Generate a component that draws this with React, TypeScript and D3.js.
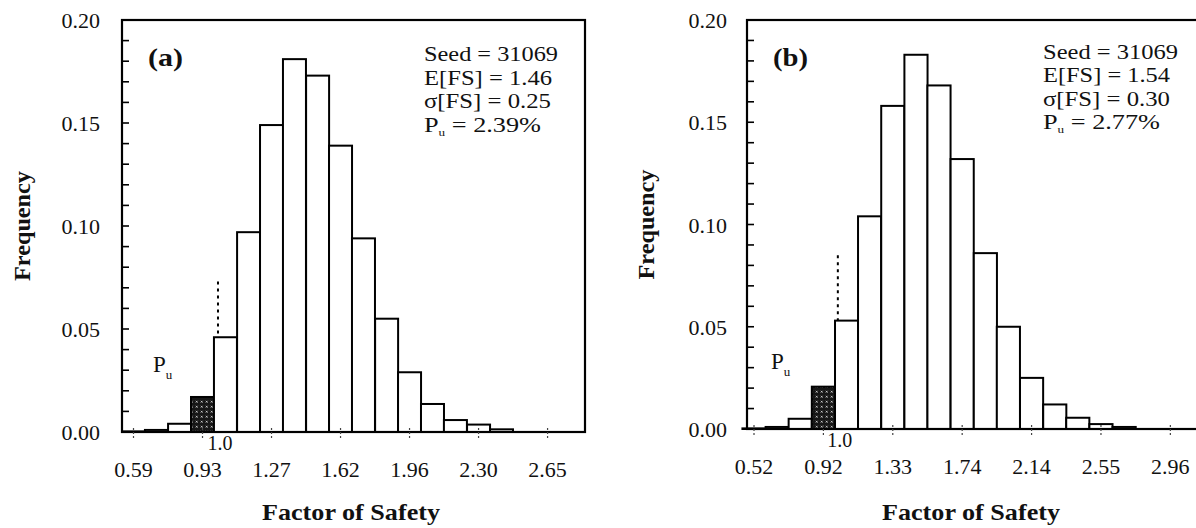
import React from "react";
import * as d3 from "d3";

// ---------- data ----------
const Y_TICKS = [0, 0.05, 0.1, 0.15, 0.2];
const Y_TICK_LABELS = ["0.00", "0.05", "0.10", "0.15", "0.20"];
const Y_MINOR = [0.01, 0.02, 0.03, 0.04, 0.06, 0.07, 0.08, 0.09, 0.11, 0.12, 0.13, 0.14, 0.16, 0.17, 0.18, 0.19];

const TICKS_A = [0.59, 0.933, 1.276, 1.619, 1.962, 2.305, 2.648];
const TICK_LABELS_A = ["0.59", "0.93", "1.27", "1.62", "1.96", "2.30", "2.65"];
const BIN_WIDTH_A = 0.1143;
const BIN_CENTERS_A = [0.59, 0.704, 0.819, 0.933, 1.047, 1.162, 1.276, 1.39, 1.505, 1.619, 1.733, 1.848, 1.962, 2.076, 2.19, 2.305, 2.419];
const FREQ_A = [0.0003, 0.001, 0.004, 0.017, 0.046, 0.097, 0.149, 0.181, 0.173, 0.139, 0.094, 0.055, 0.029, 0.0136, 0.0058, 0.0036, 0.0013];
const STATS_A = ["Seed = 31069", "E[FS] = 1.46", "σ[FS] = 0.25", "= 2.39%"];

const TICKS_B = [0.52, 0.927, 1.334, 1.741, 2.148, 2.555, 2.962];
const TICK_LABELS_B = ["0.52", "0.92", "1.33", "1.74", "2.14", "2.55", "2.96"];
const BIN_WIDTH_B = 0.1357;
const BIN_CENTERS_B = [0.52, 0.656, 0.791, 0.927, 1.063, 1.198, 1.334, 1.47, 1.605, 1.741, 1.877, 2.012, 2.148, 2.284, 2.419, 2.555, 2.691];
const FREQ_B = [0.0003, 0.001, 0.005, 0.0207, 0.053, 0.104, 0.158, 0.183, 0.168, 0.132, 0.086, 0.05, 0.025, 0.012, 0.0055, 0.0024, 0.001];
const STATS_B = ["Seed = 31069", "E[FS] = 1.54", "σ[FS] = 0.30", "= 2.77%"];

const FS_LIMIT = 1.0;
const DOT_TOP_A = 0.073;
const DOT_TOP_B = 0.085;

const SERIF = "'Liberation Serif', 'Times New Roman', serif";

type PanelProps = {
  id: string;
  left: number; right: number; top: number; bottom: number;
  xDomain: [number, number];
  ticks: number[]; tickLabels: string[];
  centers: number[]; freq: number[]; binWidth: number;
  stats: string[]; statX: number; statY: number[]; statW: number[];
  dotTop: number;
  letter: string; letterX: number;
  yLabelX: number; yTickLabelX: number;
  puX: number;
  titleX: number;
};

function Panel(p: PanelProps) {
  const x = d3.scaleLinear().domain(p.xDomain).range([p.left, p.right]);
  const y = d3.scaleLinear().domain([0, 0.2]).range([p.bottom, p.top]);
  const xl = x(FS_LIMIT);
  return (
    <g>
      {/* bars */}
      {p.freq.map((f, i) => {
        const c = p.centers[i];
        const x0 = x(c - p.binWidth / 2);
        const x1 = x(c + p.binWidth / 2);
        const hatched = c + p.binWidth / 2 <= FS_LIMIT + 0.01 && f > 0.01;
        return (
          <rect key={i} x={x0} y={y(f)} width={x1 - x0} height={p.bottom - y(f)}
            fill={hatched ? "url(#hatch)" : "#fff"} stroke="#000" strokeWidth={2} />
        );
      })}
      {/* frame */}
      <rect x={p.left} y={p.top} width={p.right - p.left} height={p.bottom - p.top}
        fill="none" stroke="#000" strokeWidth={2.2} />
      {/* y ticks */}
      {Y_MINOR.map((t) => (
        <line key={"m" + t} x1={p.left} x2={p.left + 7} y1={y(t)} y2={y(t)} stroke="#000" strokeWidth={1.6} />
      ))}
      {Y_TICKS.map((t, i) => (
        <g key={"y" + t}>
          <line x1={p.left} x2={p.left + 7} y1={y(t)} y2={y(t)} stroke="#000" strokeWidth={1.6} />
          <text x={p.yTickLabelX} y={y(t) + 8} textAnchor="end" fontFamily={SERIF} fontSize={22} fill="#111">
            {Y_TICK_LABELS[i]}
          </text>
        </g>
      ))}
      {/* x ticks */}
      {p.ticks.map((t, i) => (
        <g key={"x" + t}>
          <line x1={x(t)} x2={x(t)} y1={p.bottom - 4} y2={p.bottom + 7} stroke="#444" strokeWidth={1.2} strokeDasharray="2,2" />
          <text x={x(t)} y={p.bottom + 45} textAnchor="middle" fontFamily={SERIF} fontSize={22} fill="#111">
            {p.tickLabels[i]}
          </text>
        </g>
      ))}
      {/* FS = 1.0 marker */}
      <line x1={xl + 2} x2={xl + 2} y1={y(p.dotTop)} y2={y(p.freq[4])} stroke="#000" strokeWidth={2} strokeDasharray="3,4" />
      <text x={xl + 4} y={p.bottom + 18} textAnchor="middle" fontFamily={SERIF} fontSize={20} fill="#111">1.0</text>
      {/* Pu label */}
      <text x={p.puX} y={p.bottom - 60} fontFamily={SERIF} fontSize={23} fill="#111">
        P<tspan fontSize={13} dy={7}>u</tspan>
      </text>
      {/* panel letter */}
      <text x={p.letterX} y={66} fontFamily={SERIF} fontWeight="bold" fontSize={25} fill="#111"
        textLength={35} lengthAdjust="spacingAndGlyphs">{p.letter}</text>
      {/* stats */}
      {p.stats.map((s, i) => (
        i < 3 ? (
          <text key={"s" + i} x={p.statX} y={p.statY[i]} fontFamily={SERIF} fontSize={22} fill="#111"
            textLength={p.statW[i]} lengthAdjust="spacingAndGlyphs">{s}</text>
        ) : (
          <text key={"s" + i} x={p.statX} y={p.statY[i]} fontFamily={SERIF} fontSize={22} fill="#111"
            textLength={p.statW[i]} lengthAdjust="spacingAndGlyphs">
            P<tspan fontSize={11} dy={4}>u</tspan><tspan dy={-4}>{" " + s}</tspan>
          </text>
        )
      ))}
      {/* axis titles */}
      <text transform={`translate(${p.yLabelX},${(p.top + p.bottom) / 2}) rotate(-90)`} textAnchor="middle"
        fontFamily={SERIF} fontWeight="bold" fontSize={24} fill="#111" textLength={110} lengthAdjust="spacingAndGlyphs">
        Frequency
      </text>
      <text x={p.titleX} y={520} textAnchor="middle" fontFamily={SERIF} fontWeight="bold" fontSize={24} fill="#111"
        textLength={178} lengthAdjust="spacingAndGlyphs">
        Factor of Safety
      </text>
    </g>
  );
}

export default function App() {
  return (
    <svg width={1196} height={528} style={{ position: "absolute", left: 0, top: 0, background: "#fff" }}>
      <defs>
        <pattern id="hatch" width={5} height={5} patternUnits="userSpaceOnUse">
          <rect width={5} height={5} fill="#161616" />
          <path d="M0.8,0.8 L2.6,2.6 M2.6,0.8 L0.8,2.6" stroke="#ddd" strokeWidth={0.8} />
        </pattern>
      </defs>
      <rect width={1196} height={528} fill="#fff" />
      <Panel id="a" left={122} right={585} top={20} bottom={432}
        xDomain={[0.59 - 11.5 / 201.2, 0.59 + (585 - 133.5) / 201.2]}
        ticks={TICKS_A} tickLabels={TICK_LABELS_A}
        centers={BIN_CENTERS_A} freq={FREQ_A} binWidth={BIN_WIDTH_A}
        stats={STATS_A} statX={424} statY={[61, 84.5, 108, 131.5]} statW={[134, 128, 127, 117]}
        dotTop={DOT_TOP_A} letter="(a)" letterX={148}
        yLabelX={30} yTickLabelX={100} puX={153} titleX={351} />
      <Panel id="b" left={747} right={1199} top={20} bottom={429}
        xDomain={[0.52 - 7 / 170.5, 0.52 + (1199 - 754) / 170.5]}
        ticks={TICKS_B} tickLabels={TICK_LABELS_B}
        centers={BIN_CENTERS_B} freq={FREQ_B} binWidth={BIN_WIDTH_B}
        stats={STATS_B} statX={1043} statY={[58.5, 82, 105.5, 129]} statW={[135, 127, 127, 117]}
        dotTop={DOT_TOP_B} letter="(b)" letterX={773}
        yLabelX={654} yTickLabelX={727} puX={771} titleX={971} />
    </svg>
  );
}
